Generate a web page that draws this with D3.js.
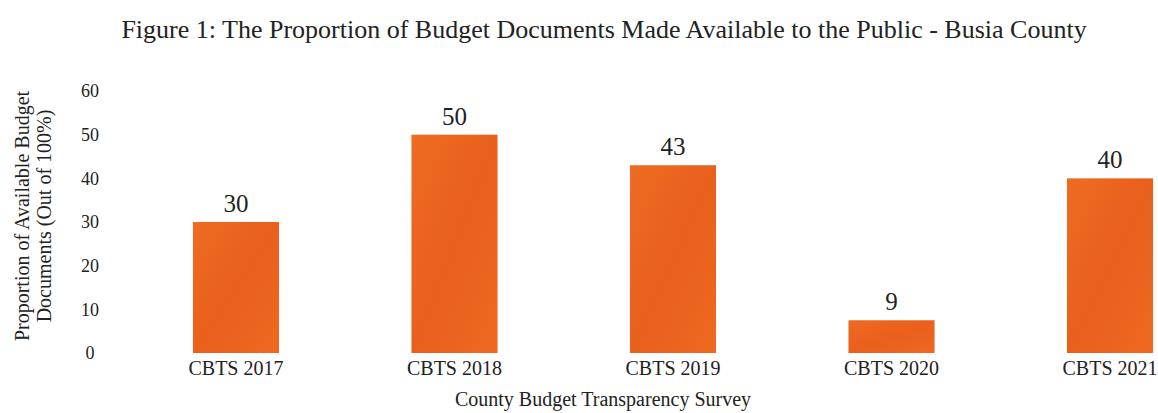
<!DOCTYPE html>
<html lang="en">
<head>
  <meta charset="UTF-8">
  <script src="https://d3js.org/d3.v7.min.js"></script>
  <title>Busia County</title>
  <style>
    body { margin: 0; padding: 0; background: #fff; overflow: hidden; }
    svg text { font-family: "Liberation Serif", "DejaVu Serif", serif; fill: #222; }
  </style>
</head>
<body>
  <div id="chart"></div>
  <script>
    // data
    const surveys = ["CBTS 2017", "CBTS 2018", "CBTS 2019", "CBTS 2020", "CBTS 2021"];
    const barValues = [30, 50, 43, 7.5, 40];   // heights as drawn
    const barLabels = ["30", "50", "43", "9", "40"]; // numbers printed above
    const yTicks = [0, 10, 20, 30, 40, 50, 60];

    const width = 1158, height = 413;
    const svg = d3.select("#chart").append("svg")
      .attr("width", width)
      .attr("height", height);

    // orange, slightly mottled
    const grad = svg.append("defs").append("linearGradient")
      .attr("id", "barfill").attr("x1", 0).attr("y1", 0).attr("x2", 1).attr("y2", 1);
    grad.append("stop").attr("offset", "0%").attr("stop-color", "#ee6b22");
    grad.append("stop").attr("offset", "50%").attr("stop-color", "#e9601d");
    grad.append("stop").attr("offset", "100%").attr("stop-color", "#ee6920");

    const x = d3.scaleBand()
      .domain(surveys)
      .range([182, 1164])
      .paddingInner(0.606)
      .paddingOuter(0.05);

    const y = d3.scaleLinear()
      .domain([0, 60])
      .range([353, 91]);

    // title
    svg.append("text")
      .attr("x", 604).attr("y", 38)
      .attr("text-anchor", "middle")
      .style("font-size", "26px")
      .text("Figure 1: The Proportion of Budget Documents Made Available to the Public - Busia County");

    // y axis (labels only)
    const yAxis = svg.append("g")
      .attr("transform", "translate(100,0)")
      .call(d3.axisLeft(y).tickValues(yTicks).tickSize(0).tickPadding(0));
    yAxis.select(".domain").remove();
    yAxis.selectAll("text")
      .attr("text-anchor", "middle")
      .attr("x", -10)
      .attr("fill", "#222")
      .style("font-family", "'Liberation Serif', serif")
      .style("font-size", "18px");

    // bars
    svg.append("g").selectAll("rect")
      .data(barValues)
      .join("rect")
      .attr("x", (d, i) => x(surveys[i]))
      .attr("y", d => y(d))
      .attr("width", x.bandwidth())
      .attr("height", d => y(0) - y(d))
      .attr("fill", "url(#barfill)");

    // value labels
    svg.append("g").selectAll("text")
      .data(barValues)
      .join("text")
      .attr("x", (d, i) => x(surveys[i]) + x.bandwidth() / 2)
      .attr("y", d => y(d) - 10)
      .attr("text-anchor", "middle")
      .style("font-size", "25px")
      .text((d, i) => barLabels[i]);

    // x axis (labels only)
    const xAxis = svg.append("g")
      .attr("transform", "translate(0,353)")
      .call(d3.axisBottom(x).tickSize(0).tickPadding(0));
    xAxis.select(".domain").remove();
    xAxis.selectAll("text")
      .attr("dy", "1.1em")
      .attr("fill", "#222")
      .style("font-family", "'Liberation Serif', serif")
      .style("font-size", "20px");

    // axis titles
    svg.append("text")
      .attr("x", 603).attr("y", 406)
      .attr("text-anchor", "middle")
      .style("font-size", "20px")
      .text("County Budget Transparency Survey");

    const yTitle = svg.append("text")
      .attr("transform", "translate(29,216) rotate(-90)")
      .attr("text-anchor", "middle")
      .style("font-size", "20px");
    yTitle.append("tspan").attr("x", 0).attr("dy", 0).text("Proportion of Available Budget");
    yTitle.append("tspan").attr("x", 0).attr("dy", "1.1em").text("Documents (Out of 100%)");
  </script>
</body>
</html>
